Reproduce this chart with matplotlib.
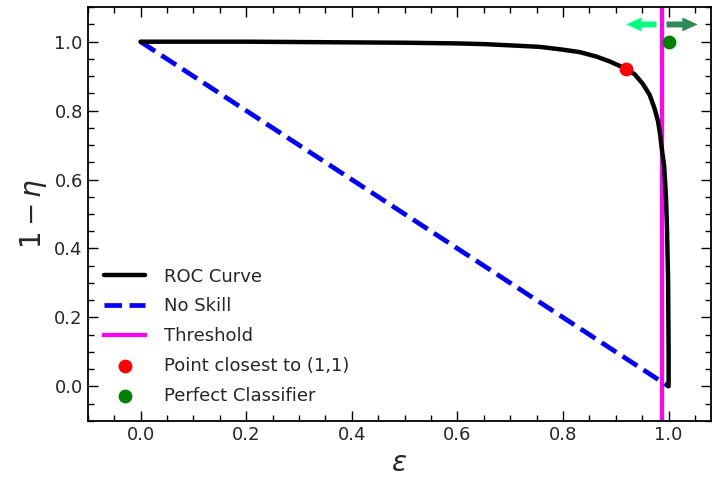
import matplotlib
matplotlib.use("Agg")
import matplotlib.pyplot as plt
from matplotlib.ticker import MultipleLocator

# ROC curve samples (false-positive side on x, 1 - eta on y)
roc_eps = [0.0, 0.1, 0.2, 0.3, 0.4, 0.5, 0.6, 0.65, 0.718, 0.756, 0.794, 0.831,
           0.863, 0.888, 0.907, 0.920, 0.936, 0.951, 0.964, 0.973, 0.980, 0.984,
           0.987, 0.9915, 0.995, 0.997, 0.999, 1.0, 1.0]
roc_one_minus_eta = [1.0, 1.0, 1.0, 0.999, 0.998, 0.997, 0.995, 0.993, 0.988,
                     0.985, 0.978, 0.970, 0.957, 0.943, 0.930, 0.921, 0.905,
                     0.878, 0.846, 0.808, 0.769, 0.730, 0.690, 0.640, 0.550,
                     0.455, 0.310, 0.10, 0.0]

no_skill_eps = [0.0, 1.0]
no_skill_y = [1.0, 0.0]

threshold_eps = 0.987
closest_point = (0.92, 0.921)
perfect_point = (1.0, 1.0)

arrow_y = 1.05
arrow_left = (0.977, 0.92)
arrow_right = (0.996, 1.055)

plt.rcParams["text.color"] = "0.15"
plt.rcParams["xtick.labelcolor"] = "0.15"
plt.rcParams["ytick.labelcolor"] = "0.15"
plt.rcParams["axes.labelcolor"] = "0.15"

fig = plt.figure(figsize=(7.13, 4.82), dpi=100)
ax = fig.add_axes([0.123, 0.127, 0.874, 0.858])

ax.axvline(threshold_eps, color="magenta", lw=3, label="Threshold", zorder=1)
ax.plot(roc_eps, roc_one_minus_eta, color="black", lw=3.2, label="ROC Curve",
        solid_capstyle="round", solid_joinstyle="round", zorder=3)
ax.plot(no_skill_eps, no_skill_y, color="blue", lw=3.4, ls="--", label="No Skill", zorder=2)
ax.scatter(*closest_point, color="red", s=80, label="Point closest to (1,1)", zorder=4)
ax.scatter(*perfect_point, color="green", s=80, label="Perfect Classifier", zorder=4)

ax.annotate("", xy=(arrow_left[1], arrow_y), xytext=(arrow_left[0], arrow_y),
            arrowprops=dict(facecolor="springgreen", edgecolor="none",
                            width=4.3, headwidth=10, headlength=11, shrink=0))
ax.annotate("", xy=(arrow_right[1], arrow_y), xytext=(arrow_right[0], arrow_y),
            arrowprops=dict(facecolor="seagreen", edgecolor="none",
                            width=4.3, headwidth=10, headlength=11, shrink=0))

ax.set_xlim(-0.1, 1.08)
ax.set_ylim(-0.1, 1.1)
ax.xaxis.set_major_locator(MultipleLocator(0.2))
ax.xaxis.set_minor_locator(MultipleLocator(0.05))
ax.yaxis.set_major_locator(MultipleLocator(0.2))
ax.yaxis.set_minor_locator(MultipleLocator(0.05))
ax.tick_params(which="both", direction="in", top=True, right=True, labelsize=13)
ax.tick_params(which="major", length=7, width=1)
ax.tick_params(which="minor", length=4, width=1)
for s in ax.spines.values():
    s.set_linewidth(1.3)

ax.set_xlabel(r"$\epsilon$", fontsize=20)
ax.set_ylabel(r"$1-\eta$", fontsize=20)

h, l = ax.get_legend_handles_labels()
order = ["ROC Curve", "No Skill", "Threshold", "Point closest to (1,1)", "Perfect Classifier"]
hd = dict(zip(l, h))
ax.legend([hd[k] for k in order], order, loc="lower left", frameon=False, fontsize=13,
          handlelength=2.3, handletextpad=1.0, labelspacing=0.65)

fig.savefig("out.png", dpi=100)
